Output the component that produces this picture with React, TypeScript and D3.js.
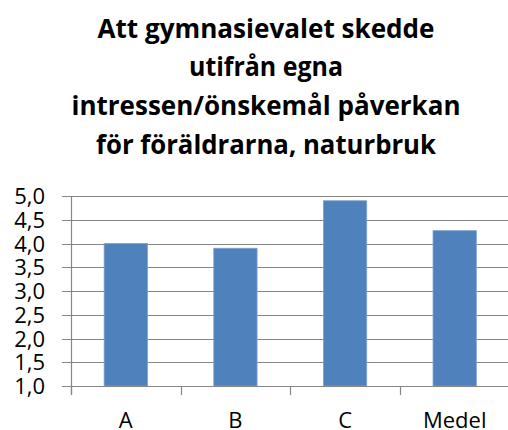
import React from "react";
import * as d3 from "d3";

const titleLines = [
  "Att gymnasievalet skedde",
  "utifrån egna",
  "intressen/önskemål påverkan",
  "för föräldrarna, naturbruk",
];
const titleWidths = [337, 154, 389, 340];
const categories = ["A", "B", "C", "Medel"];
const values = [4.0, 3.9, 4.9, 4.27];
const yTicks = [1.0, 1.5, 2.0, 2.5, 3.0, 3.5, 4.0, 4.5, 5.0];

const W = 508;
const H = 430;
const left = 71;
const right = 509.5;
const top = 196;
const bottom = 386;
const grid = "#868686";
const font = "'Open Sans', 'Noto Sans', sans-serif";

export default function App() {
  const x = d3.scaleBand<string>().domain(categories).range([left, right]).padding(0);
  const y = d3.scaleLinear().domain([1, 5]).range([bottom, top]);
  const bw = x.bandwidth() * 0.395;
  const fmt = (v: number) => v.toFixed(1).replace(".", ",");
  const boundaries = categories.map((c) => x(c) as number).concat([right]);

  return (
    <svg width={W} height={H} style={{ position: "absolute", left: 0, top: 0, background: "#fff" }}>
      <rect x={0} y={0} width={W} height={H} fill="#fff" />
      {titleLines.map((t, i) => (
        <text
          key={i}
          x={266}
          y={37.7 + i * 38.7}
          textAnchor="middle"
          fontFamily={font}
          fontWeight="bold"
          fontSize={27}
          fill="#000"
          textLength={titleWidths[i]}
          lengthAdjust="spacingAndGlyphs"
        >
          {t}
        </text>
      ))}
      {yTicks.map((t) => (
        <g key={t}>
          <line x1={62} x2={right} y1={Math.round(y(t)) + 0.5} y2={Math.round(y(t)) + 0.5} stroke={grid} strokeWidth={1} />
          <text x={45} y={y(t) + 8} textAnchor="end" fontFamily={font} fontSize={22} fill="#000">
            {fmt(t)}
          </text>
        </g>
      ))}
      {categories.map((c, i) => {
        const cx = (x(c) as number) + x.bandwidth() / 2;
        return (
          <rect
            key={c}
            x={cx - bw / 2}
            y={y(values[i])}
            width={bw}
            height={y(1) - y(values[i])}
            fill="#4F81BD"
            stroke="#7EA1D0"
            strokeWidth={0.8}
          />
        );
      })}
      <line x1={left + 0.5} x2={left + 0.5} y1={top} y2={395} stroke={grid} strokeWidth={1.2} />
      <line x1={62} x2={right} y1={Math.round(y(1)) + 0.5} y2={Math.round(y(1)) + 0.5} stroke={grid} strokeWidth={1.2} />
      {boundaries.map((bx, i) => (
        <line key={i} x1={Math.round(bx) + 0.5} x2={Math.round(bx) + 0.5} y1={386} y2={395} stroke={grid} strokeWidth={1.2} />
      ))}
      {categories.map((c) => (
        <text
          key={c}
          x={(x(c) as number) + x.bandwidth() / 2}
          y={428}
          textAnchor="middle"
          fontFamily={font}
          fontSize={22}
          fill="#000"
        >
          {c}
        </text>
      ))}
    </svg>
  );
}
